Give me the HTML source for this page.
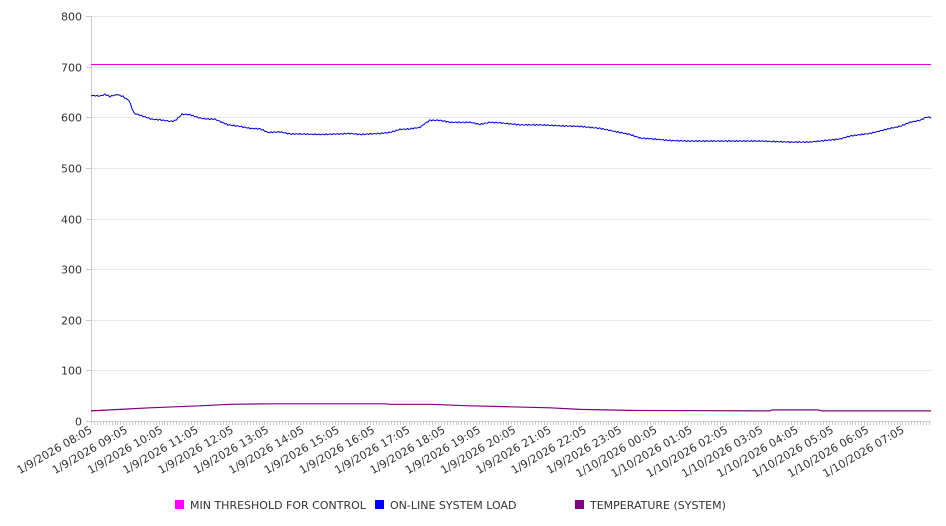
<!DOCTYPE html>
<html><head><meta charset="utf-8"><style>
html,body{margin:0;padding:0;background:#fff;}
svg{display:block;font-family:"DejaVu Sans","Liberation Sans",sans-serif;}
</style></head><body>
<svg id="c" width="946" height="526" viewBox="0 0 946 526" xmlns="http://www.w3.org/2000/svg">
<g id="grid" stroke="#e8e8e8" stroke-width="1"></g>
<g id="ylab" font-size="11" fill="#333" text-anchor="end"></g>
<line x1="91.5" y1="16" x2="91.5" y2="421" stroke="#ccc"/>
<line x1="91" y1="421.5" x2="931" y2="421.5" stroke="#ccc"/>
<g id="xt" stroke="#ccc"></g>
<g id="xlab" font-size="11" fill="#333" text-anchor="end"></g>
<line x1="91" y1="64.5" x2="931" y2="64.5" stroke="#e000e0" stroke-width="1"/>
<polyline id="load" fill="none" stroke="#0000e0" stroke-width="1"/>
<polyline id="temp" fill="none" stroke="#800080" stroke-width="1.2"/>
<g font-size="11" fill="#333">
<rect x="175" y="500" width="9" height="9" fill="#ff00ff"/><text x="190" y="509">MIN THRESHOLD FOR CONTROL</text>
<rect x="375" y="500" width="9" height="9" fill="#0000ff"/><text x="390" y="509">ON-LINE SYSTEM LOAD</text>
<rect x="575" y="500" width="9" height="9" fill="#800080"/><text x="590" y="509">TEMPERATURE (SYSTEM)</text>
</g>
</svg>
<script>
var ns="http://www.w3.org/2000/svg";
function Y(v){return 421-v*0.50625;}
function el(p,t,a,txt){var e=document.createElementNS(ns,t);for(var k in a)e.setAttribute(k,a[k]);if(txt!=null)e.textContent=txt;document.getElementById(p).appendChild(e);}
for(var v=0;v<=800;v+=100){var y=Math.round(Y(v))+0.5;if(v>0)el("grid","line",{x1:92,x2:931,y1:y,y2:y});el("grid","line",{x1:86,x2:91,y1:y,y2:y,stroke:"#ccc"});el("ylab","text",{x:82,y:y+4},v);}
for(var x=91;x<=931;x+=2.94){el("xt","line",{x1:Math.round(x)+0.5,x2:Math.round(x)+0.5,y1:421,y2:425});}
var hrs=["08","09","10","11","12","13","14","15","16","17","18","19","20","21","22","23","00","01","02","03","04","05","06","07"];
for(var i=0;i<24;i++){var x=93+i*35.3;var d=i<16?"1/9/2026 ":"1/10/2026 ";el("xlab","text",{x:x,y:432,transform:"rotate(-30 "+x+" 432)"},d+hrs[i]+":05");}
var L=[[91,643],[100,642],[105,645],[110,641],[117,645],[123,641],[129,633],[134,608],[140,604],[146,600],[152,596],[160,595],[170,592],[175,593],[182,606],[190,605],[197,600],[204,597],[215,596],[222,590],[228,585],[240,582],[250,578],[260,577],[265,573],[268,570],[280,571],[290,567],[300,567],[320,566],[340,567],[350,568],[360,566],[380,568],[390,570],[400,576],[410,577],[420,580],[425,588],[430,594],[440,594],[450,590],[470,590],[480,586],[490,590],[500,589],[520,585],[540,585],[560,583],[580,582],[600,578],[620,570],[630,566],[640,559],[660,556],[670,554],[690,553],[720,553],[760,553],[790,551],[810,551],[830,555],[840,557],[850,563],[870,568],[880,573],[890,578],[900,582],[910,590],[920,594],[926,600],[931,600]];
var pts=[];for(var i=0;i<L.length-1;i++){var a=L[i],b=L[i+1];for(var x=a[0];x<b[0];x+=1.5){var t=(x-a[0])/(b[0]-a[0]);var v=a[1]+(b[1]-a[1])*t+(Math.sin(x*1.7)*1.2);pts.push(x.toFixed(1)+","+Y(v).toFixed(1));}}
pts.push("931,"+Y(600));document.getElementById("load").setAttribute("points",pts.join(" "));
var T=[[91,20],[120,23],[150,26],[200,30],[230,33],[270,34],[385,34],[390,33],[430,33],[470,30],[510,28],[550,26],[580,23],[630,21],[770,20],[772,22],[818,22],[822,20],[931,20]];
document.getElementById("temp").setAttribute("points",T.map(function(p){return p[0]+","+Y(p[1]).toFixed(1);}).join(" "));
</script>
</body></html>
